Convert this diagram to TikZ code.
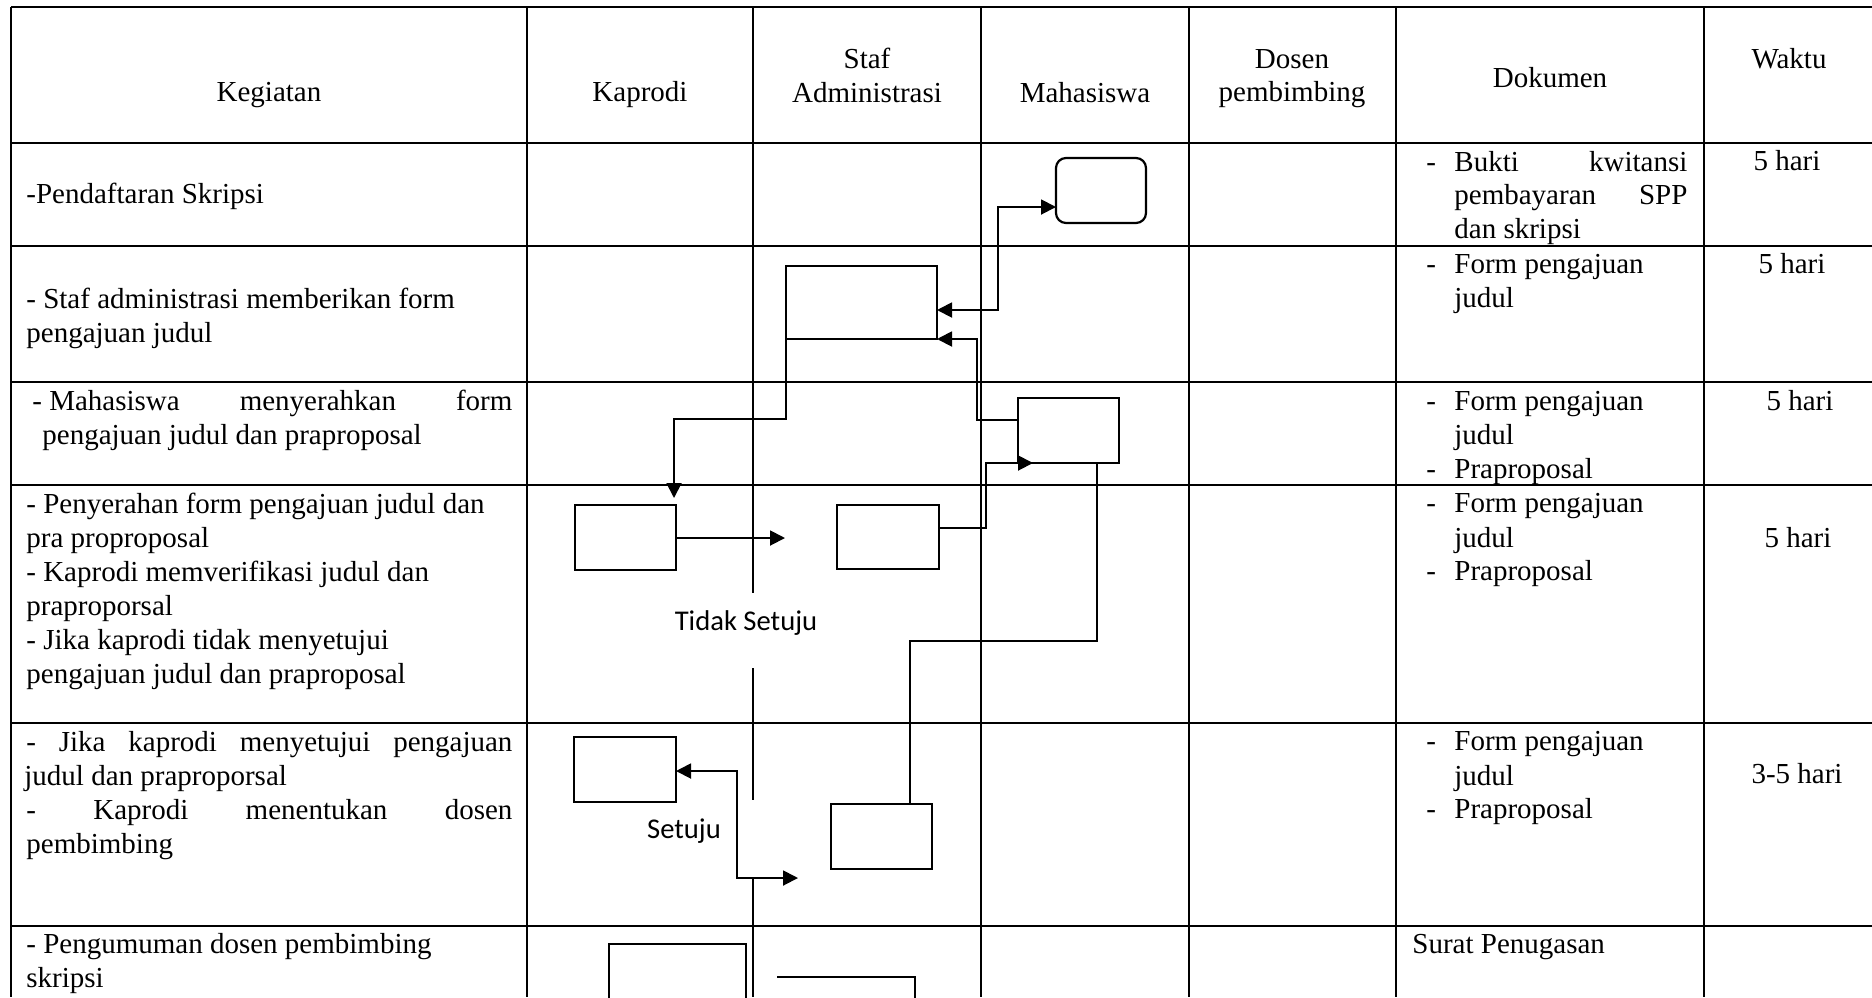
\documentclass[tikz,border=0pt]{standalone}
\usepackage{fontspec}
\setmainfont{Liberation Serif}
\newfontfamily\calibrifont{Carlito}
\usetikzlibrary{arrows.meta,calc}
\begin{document}
\begin{tikzpicture}[x=0.5pt,y=-0.5pt,
  >={Triangle[length=7.5pt,width=7.5pt]},
  grid/.style={line width=0.55pt},
  box/.style={draw, line width=1.1pt, inner sep=0pt, outer sep=0pt},
  boxline/.style={line width=1.1pt},
  conn/.style={line width=0.95pt},
  txt/.style={inner sep=0pt, anchor=base west, font=\fontsize{14.5pt}{17pt}\selectfont},
  ctxt/.style={inner sep=0pt, anchor=base, font=\fontsize{14.5pt}{17pt}\selectfont},
  lbl/.style={inner sep=0pt, anchor=base, font=\calibrifont\fontsize{14.3pt}{17pt}\selectfont}
]
\useasboundingbox (0,0) rectangle (1872,997);
\fill[white] (0,0) rectangle (1872,997);
\clip (0,0) rectangle (1872,997);

% ---------- grid ----------
\foreach \y in {7,143,246,382,485,723,926} \draw[grid] (11,\y) -- (1872,\y);
\foreach \x in {11,527,981,1189,1396,1704} \draw[grid] (\x,7) -- (\x,997);
\draw[grid] (753,7) -- (753,593);
\draw[grid] (753,668) -- (753,800);
\draw[grid] (753,878) -- (753,997);

% ---------- header ----------
\node[ctxt] (hKeg) at (269,101) {Kegiatan};
\node[ctxt] (hKap) at (640,101) {Kaprodi};
\node[ctxt] (hStafA) at (867,68) {Staf};
\node[ctxt] (hStafB) at (867,102) {Administrasi};
\node[ctxt] (hMah) at (1085,102) {Mahasiswa};
\node[ctxt] (hDosA) at (1292,68) {Dosen};
\node[ctxt] (hDosB) at (1292,101) {pembimbing};
\node[ctxt] (hDok) at (1550,87) {Dokumen};
\node[ctxt] (hWak) at (1789,68) {Waktu};

% ---------- Kegiatan ----------
\node[txt] (k1a) at (26,203) {-Pendaftaran Skripsi};
\node[txt] (k2a) at (26,308) {- Staf administrasi memberikan form};
\node[txt] (k2b) at (26,342) {pengajuan judul};
\node[txt] (k3a) at (32,410) {\hbox to 240pt{- Mahasiswa\hfill menyerahkan\hfill form}};
\node[txt] (k3b) at (42,444) {pengajuan judul dan praproposal};
\node[txt] (k4a) at (26,513) {- Penyerahan form pengajuan judul dan};
\node[txt] (k4b) at (26,547) {pra proproposal};
\node[txt] (k4c) at (26,581) {- Kaprodi memverifikasi judul dan};
\node[txt] (k4d) at (26,615) {praproporsal};
\node[txt] (k4e) at (26,649) {- Jika kaprodi tidak menyetujui};
\node[txt] (k4f) at (26,683) {pengajuan judul dan praproposal};
\node[txt] (k5a) at (26,751) {\hbox to 243pt{-\hfill Jika\hfill kaprodi\hfill menyetujui\hfill pengajuan}};
\node[txt] (k5b) at (24,785) {judul dan praproporsal};
\node[txt] (k5c) at (26,819) {\hbox to 243pt{-\hfill Kaprodi\hfill menentukan\hfill dosen}};
\node[txt] (k5d) at (26,853) {pembimbing};
\node[txt] (k6a) at (26,953) {- Pengumuman dosen pembimbing};
\node[txt] (k6b) at (26,987) {skripsi};

% ---------- Dokumen ----------
\node[txt] (d1d) at (1426,171) {-};
\node[txt] (d1a) at (1454,171) {\hbox to 116.5pt{Bukti\hfill kwitansi}};
\node[txt] (d1b) at (1454,204) {\hbox to 116.5pt{pembayaran\hfill SPP}};
\node[txt] (d1c) at (1454,238) {dan skripsi};
\node[txt] (d2d) at (1426,273) {-};
\node[txt] (d2a) at (1454,273) {Form pengajuan};
\node[txt] (d2b) at (1454,307) {judul};
\node[txt] (d3d) at (1426,410) {-};
\node[txt] (d3a) at (1454,410) {Form pengajuan};
\node[txt] (d3b) at (1454,444) {judul};
\node[txt] (d3e) at (1426,478) {-};
\node[txt] (d3c) at (1454,478) {Praproposal};
\node[txt] (d4d) at (1426,512) {-};
\node[txt] (d4a) at (1454,512) {Form pengajuan};
\node[txt] (d4b) at (1454,547) {judul};
\node[txt] (d4e) at (1426,580) {-};
\node[txt] (d4c) at (1454,580) {Praproposal};
\node[txt] (d5d) at (1426,750) {-};
\node[txt] (d5a) at (1454,750) {Form pengajuan};
\node[txt] (d5b) at (1454,785) {judul};
\node[txt] (d5e) at (1426,818) {-};
\node[txt] (d5c) at (1454,818) {Praproposal};
\node[txt] (d6a) at (1412,953) {Surat Penugasan};

% ---------- Waktu ----------
\node[ctxt] (w1) at (1787,170) {5 hari};
\node[ctxt] (w2) at (1792,273) {5 hari};
\node[ctxt] (w3) at (1800,410) {5 hari};
\node[ctxt] (w4) at (1798,547) {5 hari};
\node[ctxt] (w5) at (1797,783) {3-5 hari};

% ---------- flow boxes ----------
\node[box, rounded corners=5pt, minimum width=45pt, minimum height=32.5pt] (M1) at (1101,190.5) {};
\node[box, minimum width=75.5pt, minimum height=36.5pt] (S1) at (861.5,302.5) {};
\node[box, minimum width=50.5pt, minimum height=32.5pt] (M2) at (1068.5,430.5) {};
\node[box, minimum width=50.5pt, minimum height=32.5pt] (K1) at (625.5,537.5) {};
\node[box, minimum width=51pt, minimum height=32pt] (S2) at (888,537) {};
\node[box, minimum width=51pt, minimum height=32.5pt] (K2) at (625,769.5) {};
\node[box, minimum width=50.5pt, minimum height=32.5pt] (S3) at (881.5,836.5) {};
\node[box, minimum width=68.5pt, minimum height=33pt] (K3) at (677.5,977) {};
\draw[boxline] (777,977) -- (915,977) -- (915,1010);

% ---------- labels ----------
\node[lbl] (lTidak) at (746,630) {Tidak Setuju};
\node[lbl] (lSetuju) at (684,838) {Setuju};

% ---------- connector free ends ----------
\coordinate (c3end) at (674,498);
\coordinate (c4end) at (785,538);
\coordinate (c5end) at (1033,463);
\coordinate (c7end) at (798,878);

% ---------- connectors ----------
\draw[conn,<->] (S1.east |- 0,310) -- (998,310) -- (998,207) -- (M1.west |- 0,207);
\draw[conn,->] (M2.west |- 0,420) -- (977,420) -- (977,339) -- (S1.south east);
\draw[conn,->] (S1.south west) -- (786,419) -- (674,419) -- (c3end);
\draw[conn,->] (K1.east |- c4end) -- (c4end);
\draw[conn,->] (S2.east |- 0,528) -- (986,528) -- (986,463) -- (c5end);
\draw[conn] (M2.south -| 1097,0) -- (1097,641) -- (910,641) -- (S3.north -| 910,0);
\draw[conn,<->] (K2.east |- 0,771) -- (737,771) -- (737,878) -- (c7end);
\end{tikzpicture}
\end{document}
